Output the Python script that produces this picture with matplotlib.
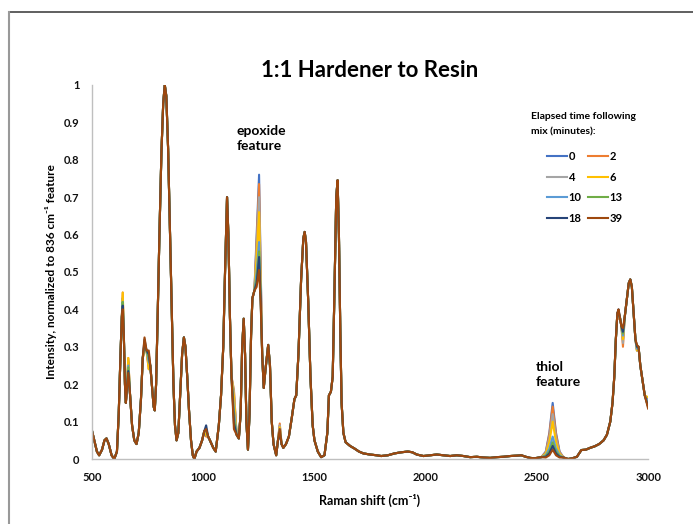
import numpy as np
import matplotlib
matplotlib.use('Agg')
import matplotlib.pyplot as plt
from matplotlib.lines import Line2D

FONT = ['Lato', 'DejaVu Sans']
plt.rcParams['font.family'] = FONT

# ── Data ─────────────────────────────────────────────────────────────
times = [0, 2, 4, 6, 10, 13, 18, 39]
colors = ['#4472C4', '#ED7D31', '#A5A5A5', '#FFC000',
          '#5B9BD5', '#70AD47', '#264478', '#9E480E']

# common spectrum (39 min trace), Raman shift (cm-1) and intensity
shift = [500, 510, 522, 532, 545, 556, 565, 575, 588, 600, 612, 620, 628, 634,
         638, 643, 648, 652, 657, 663, 670, 680, 690, 700, 710, 720, 728, 736,
         745, 755, 762, 770, 777, 782, 788, 795, 803, 812, 820, 827, 834, 842,
         850, 858, 866, 873, 880, 888, 896, 905, 913, 920, 928, 936, 945, 953,
         960, 970, 983, 995, 1005, 1013, 1022, 1030, 1045, 1056, 1070, 1080,
         1090, 1098, 1107, 1113, 1120, 1127, 1138, 1150, 1160, 1168, 1175,
         1182, 1188, 1194, 1201, 1208, 1215, 1221, 1230, 1240, 1251, 1258,
         1265, 1272, 1280, 1292, 1300, 1308, 1316, 1328, 1336, 1344, 1352,
         1360, 1372, 1385, 1398, 1410, 1418, 1428, 1440, 1450, 1456, 1462,
         1472, 1482, 1492, 1500, 1515, 1530, 1545, 1558, 1565, 1574, 1582,
         1590, 1598, 1604, 1610, 1616, 1622, 1630, 1640, 1660, 1680, 1700,
         1720, 1750, 1780, 1800, 1830, 1860, 1890, 1920, 1940, 1960, 1990,
         2020, 2050, 2080, 2110, 2140, 2170, 2200, 2230, 2260, 2290, 2320,
         2350, 2380, 2410, 2430, 2450, 2470, 2490, 2520, 2540, 2556, 2571,
         2586, 2602, 2620, 2640, 2660, 2680, 2700, 2720, 2740, 2760, 2780,
         2800, 2815, 2830, 2840, 2848, 2855, 2862, 2867, 2873, 2880, 2887,
         2895, 2905, 2913, 2920, 2927, 2935, 2943, 2950, 2957, 2965, 2975,
         2985, 3000]
intensity = [0.075, 0.05, 0.02, 0.01, 0.025, 0.05, 0.055, 0.04, 0.01, 0.0,
             0.02, 0.12, 0.28, 0.38, 0.40, 0.33, 0.20, 0.15, 0.19, 0.23, 0.18,
             0.09, 0.05, 0.04, 0.07, 0.16, 0.27, 0.325, 0.29, 0.29, 0.25, 0.19,
             0.14, 0.13, 0.20, 0.38, 0.60, 0.82, 0.95, 1.0, 0.97, 0.83, 0.62,
             0.40, 0.20, 0.09, 0.05, 0.07, 0.17, 0.28, 0.325, 0.30, 0.22, 0.13,
             0.05, 0.01, 0.0, 0.02, 0.03, 0.05, 0.075, 0.08, 0.06, 0.05, 0.03,
             0.02, 0.09, 0.17, 0.30, 0.50, 0.70, 0.60, 0.38, 0.22, 0.08, 0.065,
             0.055, 0.12, 0.30, 0.375, 0.28, 0.10, 0.025, 0.12, 0.33, 0.43,
             0.45, 0.46, 0.505, 0.42, 0.28, 0.19, 0.24, 0.305, 0.25, 0.10, 0.04,
             0.01, 0.05, 0.08, 0.04, 0.03, 0.04, 0.06, 0.11, 0.16, 0.17, 0.28,
             0.48, 0.59, 0.607, 0.58, 0.42, 0.22, 0.09, 0.05, 0.02, 0.005, 0.01,
             0.07, 0.17, 0.18, 0.22, 0.45, 0.70, 0.745, 0.60, 0.35, 0.15, 0.07,
             0.045, 0.035, 0.028, 0.02, 0.015, 0.012, 0.01, 0.008, 0.01, 0.015,
             0.018, 0.02, 0.018, 0.012, 0.008, 0.01, 0.012, 0.01, 0.008, 0.01,
             0.008, 0.005, 0.006, 0.004, 0.003, 0.005, 0.006, 0.008, 0.009,
             0.01, 0.006, 0.003, 0.002, 0.005, 0.004, 0.01, 0.025, 0.01, 0.004,
             0.004, 0.0, 0.002, 0.006, 0.024, 0.025, 0.03, 0.034, 0.04, 0.05,
             0.065, 0.10, 0.15, 0.22, 0.32, 0.39, 0.40, 0.38, 0.355, 0.35, 0.38,
             0.43, 0.47, 0.48, 0.46, 0.39, 0.32, 0.305, 0.30, 0.25, 0.21, 0.17,
             0.135]

# bands that change with time (one value per elapsed time)
band_638 = [0.43, 0.445, 0.43, 0.445, 0.42, 0.42, 0.41, 0.40]
band_663 = [0.26, 0.27, 0.265, 0.27, 0.25, 0.245, 0.235, 0.23]
band_736 = [0.30, 0.29, 0.30, 0.29, 0.31, 0.31, 0.32, 0.325]
band_755 = [0.25, 0.24, 0.25, 0.24, 0.26, 0.27, 0.28, 0.29]
band_1013 = [0.07, 0.06, 0.065, 0.065, 0.075, 0.08, 0.09, 0.08]
band_1138 = [0.17, 0.185, 0.18, 0.165, 0.13, 0.11, 0.095, 0.08]
epoxide_1240 = [0.60, 0.58, 0.56, 0.54, 0.50, 0.48, 0.47, 0.46]
epoxide_1251 = [0.76, 0.735, 0.70, 0.66, 0.58, 0.555, 0.54, 0.505]
epoxide_1258 = [0.52, 0.50, 0.48, 0.46, 0.44, 0.43, 0.43, 0.42]
band_1344 = [0.09, 0.095, 0.09, 0.085, 0.08, 0.075, 0.07, 0.08]
thiol_2540 = [0.02, 0.018, 0.016, 0.014, 0.01, 0.008, 0.006, 0.004]
thiol_2556 = [0.07, 0.065, 0.055, 0.045, 0.028, 0.02, 0.015, 0.01]
thiol_2571 = [0.15, 0.14, 0.12, 0.10, 0.06, 0.045, 0.035, 0.025]
thiol_2586 = [0.07, 0.065, 0.055, 0.045, 0.028, 0.02, 0.015, 0.01]
thiol_2602 = [0.02, 0.018, 0.016, 0.014, 0.01, 0.008, 0.006, 0.004]
band_2867 = [0.39, 0.375, 0.38, 0.385, 0.39, 0.395, 0.40, 0.40]
band_2887 = [0.32, 0.30, 0.31, 0.32, 0.33, 0.335, 0.34, 0.35]
band_2950 = [0.29, 0.29, 0.29, 0.29, 0.295, 0.30, 0.30, 0.305]
band_3000 = [0.16, 0.15, 0.15, 0.165, 0.15, 0.14, 0.14, 0.135]

changing = {638: band_638, 663: band_663, 736: band_736, 755: band_755,
            1013: band_1013, 1138: band_1138, 1240: epoxide_1240,
            1251: epoxide_1251, 1258: epoxide_1258, 1344: band_1344,
            2540: thiol_2540, 2556: thiol_2556, 2571: thiol_2571,
            2586: thiol_2586, 2602: thiol_2602, 2867: band_2867,
            2887: band_2887, 2950: band_2950, 3000: band_3000}

# ── Figure ───────────────────────────────────────────────────────────
fig = plt.figure(figsize=(6.93, 5.24), dpi=100)
ax = fig.add_axes([0.1328, 0.124, 0.8024, 0.714])

lines = []
for k, (t, c) in enumerate(zip(times, colors)):
    y = list(intensity)
    for pos, vals in changing.items():
        y[shift.index(pos)] = vals[k]
    ln, = ax.plot(shift, y, color=c, linewidth=1.5, label=str(t),
                  solid_joinstyle='round')
    lines.append(ln)

ax.set_xlim(500, 3000)
ax.set_ylim(0, 1)
ax.set_xticks([500, 1000, 1500, 2000, 2500, 3000])
ax.set_yticks([0, 0.1, 0.2, 0.3, 0.4, 0.5, 0.6, 0.7, 0.8, 0.9, 1])
ax.set_yticklabels(['0', '0.1', '0.2', '0.3', '0.4', '0.5', '0.6', '0.7',
                    '0.8', '0.9', '1'])
ax.tick_params(length=0, labelsize=8, pad=9, colors='#111111')
for lab in ax.get_xticklabels() + ax.get_yticklabels():
    lab.set_fontweight('bold')
for s in ['top', 'right']:
    ax.spines[s].set_visible(False)
for s in ['left', 'bottom']:
    ax.spines[s].set_color('#BFBFBF')
    ax.spines[s].set_linewidth(1.0)

ax.set_xlabel('Raman shift (cm\u207b\u00b9)', fontsize=9,
              fontweight='bold', labelpad=8)
ax.set_ylabel('Intensity, normalized to 836 cm\u207b\u00b9 feature',
              fontsize=8.5, fontweight='bold', labelpad=5)
fig.text(0.534, 0.866, '1:1 Hardener to Resin', ha='center', va='center',
         fontsize=16, fontweight='bold')

fig.text(0.341, 0.735, 'epoxide\nfeature', ha='left', va='center',
         fontsize=10, fontweight='bold', linespacing=1.3)
fig.text(0.773, 0.285, 'thiol\nfeature', ha='left', va='center',
         fontsize=10, fontweight='bold', linespacing=1.3)

fig.text(0.766, 0.763, 'Elapsed time following\nmix (minutes):', ha='left',
         va='center', fontsize=7.5, fontweight='bold', linespacing=1.8)
# legend fills row by row: 0 2 / 4 6 / 10 13 / 18 39
order = [0, 2, 4, 6, 1, 3, 5, 7]
leg = ax.legend([lines[i] for i in order], [str(times[i]) for i in order],
                ncol=2, loc='upper left', bbox_to_anchor=(0.781, 0.722),
                bbox_transform=fig.transFigure, frameon=False, fontsize=8,
                handlelength=1.8, handletextpad=0.15, columnspacing=0.6,
                labelspacing=0.85, borderpad=0)
for txt in leg.get_texts():
    txt.set_fontweight('bold')

# outer frame of the original picture
fig.add_artist(Line2D([0.013, 1.0], [0.977, 0.977], color='#444444',
                      linewidth=1.2, transform=fig.transFigure))
fig.add_artist(Line2D([0.013, 0.013], [0.0, 0.977], color='#999999',
                      linewidth=1.5, transform=fig.transFigure))

fig.savefig('out.png', dpi=100)
